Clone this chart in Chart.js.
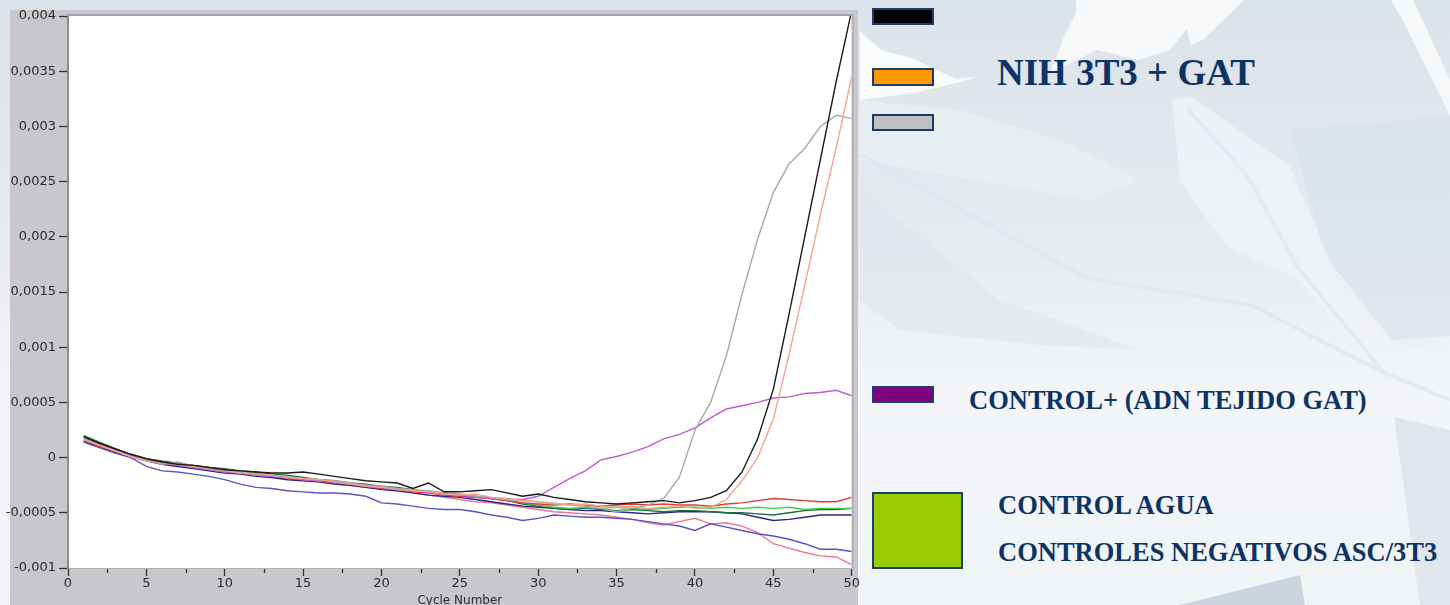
<!DOCTYPE html>
<html>
<head>
<meta charset="utf-8">
<script src="https://cdn.jsdelivr.net/npm/chart.js@4.4.0/dist/chart.umd.min.js"></script>
<style>
  html, body { margin: 0; padding: 0; }
  body { width: 1450px; height: 605px; position: relative; overflow: hidden; background: #e6ebf0; }
  #bg { position: absolute; left: 0; top: 0; }
  #qpcr { position: absolute; left: 0; top: 0; }
  .swatch { position: absolute; box-sizing: border-box; border: 2px solid #1c3c6b; }
  .label { position: absolute; color: #0c3366; font-weight: bold; white-space: nowrap; line-height: 1;
           font-family: 'Liberation Serif', 'Times New Roman', serif; }
</style>
</head>
<body>
<svg id="bg" width="1450" height="605">
  <defs>
    <linearGradient id="g" x1="0" y1="0" x2="0" y2="1">
      <stop offset="0" stop-color="#dce2e9"/>
      <stop offset="0.4" stop-color="#e6ebf0"/>
      <stop offset="0.65" stop-color="#f3f5f8"/>
      <stop offset="1" stop-color="#f1f4f7"/>
    </linearGradient>
  </defs>
  <rect width="1450" height="605" fill="url(#g)"/>
  <polygon points="860,100 960,110 1060,140 1140,180 1090,200 860,160" fill="#edf1f5" opacity="0.6"/>
  <polygon points="860,190 950,260 1000,300 1140,350 1040,345 900,330 860,300" fill="#dde3ea" opacity="0.5"/>
  <polygon points="1290,130 1450,116 1450,336 1417,349 1391,340 1349,301 1327,262" fill="#d9e0e8" opacity="0.6"/>
  <polygon points="860,31 881,50 911,58 956,79 977,77 956,83 913,93 860,100" fill="#fbfcfd"/>
  <polygon points="1076,0 1244,0 1204,39 1191,46 1187,29 1170,50 1138,60 1097,50 1050,73 1063,39 1076,13" fill="#f6f8fa"/>
  <polygon points="1391,0 1413,0 1450,80 1450,116 1402,19" fill="#f6f8fa"/>
  <polygon points="1172,100 1190,96 1290,166 1330,262 1392,340 1450,336 1450,390 1383,380 1300,280 1227,247 1180,181" fill="#f0f3f7" opacity="0.8"/>
  <polyline points="860,154 1086,278 1251,305 1383,372 1450,400" fill="none" stroke="#dbe5f0" stroke-width="4" opacity="0.7"/>
  <polyline points="1187,108 1248,177 1297,266 1383,372" fill="none" stroke="#dde7f1" stroke-width="4" opacity="0.7"/>
  <polygon points="1180,605 1300,575 1305,605" fill="#ccd5de"/>
  <polygon points="1394,417 1450,430 1450,605 1420,605" fill="#e0e6ec"/>
</svg>
<canvas id="qpcr" width="860" height="605"></canvas>
<div id="legend"></div>
<script>
// cycle numbers (x)
const cycles = [1, 2, 3, 4, 5, 6, 7, 8, 9, 10, 11, 12, 13, 14, 15, 16, 17, 18, 19, 20,
  21, 22, 23, 24, 25, 26, 27, 28, 29, 30, 31, 32, 33, 34, 35, 36, 37, 38, 39, 40,
  41, 42, 43, 44, 45, 46, 47, 48, 49, 50];

// NIH 3T3 + GAT samples
const nihBlack = [0.00019, 0.00013, 0.00008, 0.00003, -0.00001, -0.00004, -0.00006, -0.00007, -0.00009, -0.00011,
  -0.00012, -0.00013, -0.00014, -0.00014, -0.00013, -0.00015, -0.00017, -0.00019, -0.00021, -0.00022,
  -0.00023, -0.00028, -0.00023, -0.00031, -0.00031, -0.00030, -0.00029, -0.00032, -0.00035, -0.00033,
  -0.00036, -0.00038, -0.00040, -0.00041, -0.00042, -0.00041, -0.00040, -0.00039, -0.00041, -0.00039,
  -0.00036, -0.00030, -0.00013, 0.00017, 0.00062, 0.00130, 0.00200, 0.00270, 0.00340, 0.00405];
const nihOrange = [0.00016, 0.00011, 0.00006, 0.00001, -0.00003, -0.00005, -0.00006, -0.00008, -0.00010, -0.00012,
  -0.00014, -0.00015, -0.00016, -0.00018, -0.00019, -0.00020, -0.00022, -0.00024, -0.00026, -0.00027,
  -0.00029, -0.00030, -0.00031, -0.00033, -0.00034, -0.00033, -0.00036, -0.00038, -0.00039, -0.00040,
  -0.00041, -0.00043, -0.00042, -0.00044, -0.00045, -0.00044, -0.00046, -0.00045, -0.00044, -0.00046,
  -0.00045, -0.00038, -0.00021, 0.00000, 0.00035, 0.00093, 0.00156, 0.00220, 0.00280, 0.00345];
const nihGray = [0.00017, 0.00012, 0.00006, 0.00001, -0.00002, -0.00006, -0.00004, -0.00008, -0.00010, -0.00012,
  -0.00013, -0.00015, -0.00016, -0.00017, -0.00019, -0.00020, -0.00021, -0.00023, -0.00025, -0.00026,
  -0.00028, -0.00029, -0.00030, -0.00032, -0.00033, -0.00035, -0.00036, -0.00037, -0.00039, -0.00040,
  -0.00042, -0.00043, -0.00044, -0.00046, -0.00049, -0.00046, -0.00043, -0.00037, -0.00018, 0.00025,
  0.00050, 0.00092, 0.00148, 0.00198, 0.00240, 0.00266, 0.00280, 0.00300, 0.00310, 0.00307];

// positive control (GAT tissue DNA)
const controlPos = [0.00018, 0.00012, 0.00007, 0.00002, -0.00002, -0.00005, -0.00007, -0.00009, -0.00011, -0.00013,
  -0.00014, -0.00016, -0.00017, -0.00018, -0.00020, -0.00021, -0.00022, -0.00024, -0.00025, -0.00027,
  -0.00028, -0.00030, -0.00031, -0.00033, -0.00034, -0.00036, -0.00037, -0.00038, -0.00038, -0.00035,
  -0.00027, -0.00019, -0.00012, -0.00002, 0.00001, 0.00005, 0.00010, 0.00017, 0.00021, 0.00027,
  0.00036, 0.00044, 0.00047, 0.00050, 0.00054, 0.00055, 0.00058, 0.00059, 0.00061, 0.00056];

// water control and negative controls ASC/3T3
const negRed = [0.00016, 0.00010, 0.00006, 0.00002, -0.00002, -0.00004, -0.00006, -0.00008, -0.00010, -0.00012,
  -0.00013, -0.00015, -0.00017, -0.00018, -0.00020, -0.00021, -0.00023, -0.00024, -0.00026, -0.00028,
  -0.00029, -0.00031, -0.00032, -0.00034, -0.00035, -0.00036, -0.00037, -0.00039, -0.00041, -0.00042,
  -0.00043, -0.00042, -0.00043, -0.00044, -0.00043, -0.00042, -0.00043, -0.00042, -0.00043, -0.00043,
  -0.00044, -0.00042, -0.00041, -0.00039, -0.00037, -0.00038, -0.00039, -0.00040, -0.00040, -0.00036];
const negGreen = [0.00019, 0.00013, 0.00007, 0.00002, -0.00001, -0.00004, -0.00006, -0.00007, -0.00009, -0.00011,
  -0.00012, -0.00014, -0.00016, -0.00017, -0.00019, -0.00020, -0.00022, -0.00024, -0.00025, -0.00027,
  -0.00029, -0.00030, -0.00031, -0.00033, -0.00035, -0.00036, -0.00037, -0.00039, -0.00041, -0.00043,
  -0.00045, -0.00046, -0.00045, -0.00046, -0.00045, -0.00046, -0.00047, -0.00046, -0.00045, -0.00045,
  -0.00046, -0.00045, -0.00046, -0.00045, -0.00046, -0.00045, -0.00047, -0.00046, -0.00046, -0.00046];
const negDarkGreen = [0.00020, 0.00014, 0.00008, 0.00003, -0.00001, -0.00003, -0.00005, -0.00007, -0.00009, -0.00010,
  -0.00012, -0.00013, -0.00015, -0.00016, -0.00018, -0.00020, -0.00021, -0.00023, -0.00024, -0.00026,
  -0.00027, -0.00029, -0.00031, -0.00032, -0.00034, -0.00035, -0.00037, -0.00039, -0.00042, -0.00044,
  -0.00046, -0.00047, -0.00046, -0.00047, -0.00048, -0.00047, -0.00048, -0.00049, -0.00048, -0.00048,
  -0.00049, -0.00050, -0.00050, -0.00051, -0.00052, -0.00050, -0.00048, -0.00047, -0.00047, -0.00046];
const negNavy = [0.00015, 0.00010, 0.00005, 0.00001, -0.00003, -0.00006, -0.00008, -0.00010, -0.00012, -0.00014,
  -0.00015, -0.00017, -0.00018, -0.00020, -0.00021, -0.00022, -0.00024, -0.00025, -0.00027, -0.00029,
  -0.00030, -0.00032, -0.00034, -0.00035, -0.00036, -0.00038, -0.00040, -0.00042, -0.00044, -0.00045,
  -0.00046, -0.00047, -0.00048, -0.00048, -0.00049, -0.00050, -0.00051, -0.00050, -0.00049, -0.00049,
  -0.00049, -0.00050, -0.00051, -0.00054, -0.00057, -0.00056, -0.00054, -0.00052, -0.00052, -0.00052];
const negBlue = [0.00014, 0.00009, 0.00004, 0.00000, -0.00008, -0.00012, -0.00013, -0.00015, -0.00017, -0.00020,
  -0.00024, -0.00027, -0.00028, -0.00030, -0.00031, -0.00032, -0.00032, -0.00033, -0.00035, -0.00041,
  -0.00042, -0.00044, -0.00046, -0.00047, -0.00047, -0.00049, -0.00052, -0.00054, -0.00057, -0.00055,
  -0.00052, -0.00053, -0.00054, -0.00054, -0.00055, -0.00056, -0.00058, -0.00060, -0.00062, -0.00066,
  -0.00060, -0.00063, -0.00066, -0.00069, -0.00071, -0.00074, -0.00078, -0.00083, -0.00083, -0.00085];
const negPink = [0.00016, 0.00011, 0.00006, 0.00001, -0.00002, -0.00005, -0.00007, -0.00009, -0.00011, -0.00012,
  -0.00014, -0.00016, -0.00017, -0.00019, -0.00020, -0.00022, -0.00024, -0.00025, -0.00027, -0.00028,
  -0.00030, -0.00032, -0.00034, -0.00036, -0.00038, -0.00040, -0.00041, -0.00043, -0.00045, -0.00047,
  -0.00049, -0.00050, -0.00051, -0.00052, -0.00054, -0.00056, -0.00059, -0.00061, -0.00058, -0.00055,
  -0.00060, -0.00059, -0.00062, -0.00068, -0.00078, -0.00082, -0.00086, -0.00089, -0.00090, -0.00097];

const seriesList = [nihBlack, nihOrange, nihGray, controlPos, negRed, negGreen, negDarkGreen, negNavy, negBlue, negPink];
const seriesColors = ['#1a1a1a', '#f6a48e', '#a9a99f', '#c25ad6', '#e4383c', '#3ccf3c', '#1f6d46', '#25258e', '#5a52cc', '#f27392'];

const xTickLabels = [0, 5, 10, 15, 20, 25, 30, 35, 40, 45, 50];

// legend on the slide
const legendSwatches = [
  { color: '#000000', left: 872, top: 8, w: 62, h: 17 },
  { color: '#ff9900', left: 872, top: 68, w: 62, h: 18 },
  { color: '#c0c0c0', left: 872, top: 114, w: 62, h: 17 },
  { color: '#800080', left: 872, top: 386, w: 62, h: 17 },
  { color: '#99cc00', left: 872, top: 492, w: 91, h: 77 }
];
const legendTexts = [
  { text: 'NIH 3T3 + GAT', left: 997, top: 54, size: 37 },
  { text: 'CONTROL+ (ADN TEJIDO GAT)', left: 969, top: 387, size: 26.5 },
  { text: 'CONTROL AGUA', left: 998, top: 492, size: 26.5 },
  { text: 'CONTROLES NEGATIVOS ASC/3T3', left: 998, top: 539, size: 26.5 }
];

const legendBox = document.getElementById('legend');
legendSwatches.forEach(s => {
  const d = document.createElement('div');
  d.className = 'swatch';
  Object.assign(d.style, { left: s.left + 'px', top: s.top + 'px', width: s.w + 'px', height: s.h + 'px', background: s.color });
  legendBox.appendChild(d);
});
legendTexts.forEach(t => {
  const d = document.createElement('div');
  d.className = 'label';
  d.textContent = t.text;
  Object.assign(d.style, { left: t.left + 'px', top: t.top + 'px', fontSize: t.size + 'px' });
  legendBox.appendChild(d);
});

// gray instrument panel, white plot and minor x ticks
const panelPlugin = {
  id: 'panel',
  beforeDraw(chart) {
    const { ctx, chartArea: a } = chart;
    ctx.save();
    ctx.fillStyle = '#cac7cc';
    ctx.fillRect(10, 10, 848, 595);
    ctx.fillStyle = '#ffffff';
    ctx.fillRect(a.left, a.top, a.right - a.left, a.bottom - a.top);
    ctx.restore();
  },
  afterDraw(chart) {
    const { ctx, chartArea: a, scales } = chart;
    ctx.save();
    ctx.strokeStyle = '#a4a2a8';
    ctx.lineWidth = 2;
    ctx.beginPath();
    ctx.moveTo(a.left - 1, a.top - 1);
    ctx.lineTo(a.right + 1, a.top - 1);
    ctx.stroke();
    ctx.strokeStyle = '#b2b0b5';
    ctx.beginPath();
    ctx.moveTo(a.right + 1, a.top - 1);
    ctx.lineTo(a.right + 1, a.bottom);
    ctx.stroke();
    ctx.strokeStyle = '#333';
    ctx.lineWidth = 1.3;
    scales.x.ticks.forEach(t => {
      if (t.value % 5 !== 0) {
        const px = Math.round(scales.x.getPixelForValue(t.value)) + 0.5;
        ctx.beginPath();
        ctx.moveTo(px, a.bottom + 1);
        ctx.lineTo(px, a.bottom + 5);
        ctx.stroke();
      }
    });
    ctx.restore();
  }
};

const fmt = v => String(Math.round(v * 10000) / 10000).replace('.', ',');

new Chart(document.getElementById('qpcr'), {
  type: 'line',
  data: {
    datasets: seriesList.map((s, i) => ({
      data: cycles.map((c, j) => ({ x: c, y: s[j] })),
      borderColor: seriesColors[i],
      borderWidth: 1.4,
      pointRadius: 0,
      tension: 0,
      fill: false
    }))
  },
  options: {
    responsive: false,
    animation: false,
    devicePixelRatio: 1,
    layout: { padding: { top: 16, right: 8, left: 0, bottom: 0 } },
    plugins: { legend: { display: false }, tooltip: { enabled: false } },
    scales: {
      x: {
        type: 'linear',
        min: 0,
        max: 50,
        afterFit(s) { s.height = 37; },
        ticks: {
          stepSize: 2.5,
          autoSkip: false,
          maxRotation: 0,
          padding: 0,
          color: '#2a2a2a',
          font: { family: 'DejaVu Sans', size: 13 },
          callback: v => (xTickLabels.includes(v) ? String(v) : '')
        },
        grid: {
          drawOnChartArea: false,
          tickLength: 8,
          tickWidth: 1.3,
          tickColor: c => (c.tick && c.tick.value % 5 === 0 ? '#333' : 'rgba(0,0,0,0)')
        },
        border: { color: '#b2b0b5', width: 1 },
        title: {
          display: true,
          text: 'Cycle Number',
          color: '#2a2a2a',
          padding: { top: 0, bottom: -3 },
          font: { family: 'DejaVu Sans', size: 12 }
        }
      },
      y: {
        type: 'linear',
        min: -0.001,
        max: 0.004,
        afterFit(s) { s.width = 68; },
        ticks: {
          stepSize: 0.0005,
          padding: 3,
          color: '#2a2a2a',
          font: { family: 'DejaVu Sans', size: 13 },
          callback: v => fmt(v)
        },
        grid: { drawOnChartArea: false, tickLength: 9, tickWidth: 1.3, tickColor: '#333' },
        border: { color: '#8c8a90', width: 2 }
      }
    }
  },
  plugins: [panelPlugin]
});
</script>
</body>
</html>
